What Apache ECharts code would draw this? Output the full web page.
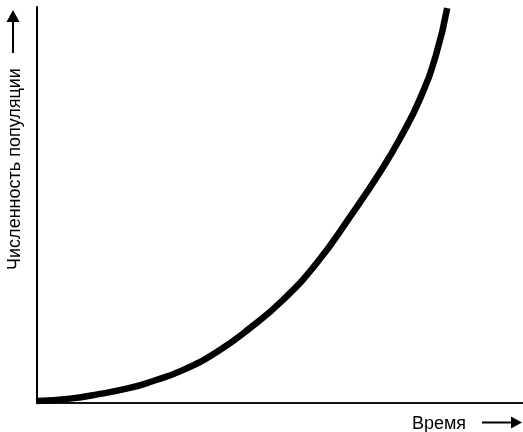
<!DOCTYPE html>
<html>
<head>
<meta charset="utf-8">
<script src="https://cdn.jsdelivr.net/npm/echarts@6/dist/echarts.min.js"></script>
<style>
  html, body { margin: 0; padding: 0; background: #fff; }
  #chart { width: 523px; height: 432px; }
</style>
</head>
<body>
<div id="chart"></div>
<script>
// Exponential (J-shaped) population growth over time, arbitrary units
const timeValues = [0, 6.8, 13.0, 19.1, 23.3, 30.0, 37.0, 43.8, 50.6, 57.6, 64.4, 71.0, 75.1, 78.8, 82.1, 84.4];
const populationValues = [0.5, 1.1, 2.3, 3.8, 5.3, 8.3, 12.9, 18.9, 26.0, 35.4, 47.0, 59.1, 67.7, 76.8, 87.9, 99.7];

const yAxisTitle = 'Численность популяции';
const xAxisTitle = 'Время';

const seriesData = timeValues.map((t, i) => [t, populationValues[i]]);

const FONT = '"Liberation Sans", Arial, sans-serif';

const chart = echarts.init(document.getElementById('chart'), null, { renderer: 'canvas' });

chart.setOption({
  animation: false,
  backgroundColor: '#ffffff',
  grid: { left: 37, right: 0, top: 7, bottom: 29 },
  xAxis: {
    type: 'value',
    min: 0,
    max: 100,
    axisLine: { show: true, lineStyle: { color: '#111', width: 2 } },
    axisTick: { show: false },
    axisLabel: { show: false },
    splitLine: { show: false }
  },
  yAxis: {
    type: 'value',
    min: 0,
    max: 100,
    axisLine: { show: true, onZero: false, lineStyle: { color: '#000', width: 2 } },
    axisTick: { show: false },
    axisLabel: { show: false },
    splitLine: { show: false }
  },
  series: [{
    type: 'line',
    data: seriesData,
    smooth: 0.5,
    symbol: 'none',
    clip: true,
    lineStyle: { color: '#000', width: 6.5, cap: 'butt' }
  }],
  graphic: [
    // vertical axis title, reading bottom to top
    {
      type: 'text',
      x: 15.5, y: 169,
      rotation: Math.PI / 2,
      style: {
        text: yAxisTitle,
        font: '18px ' + FONT,
        fill: '#000',
        align: 'center',
        verticalAlign: 'middle'
      }
    },
    // upward arrow after the vertical title
    { type: 'line', shape: { x1: 13, y1: 53, x2: 13, y2: 20 }, style: { stroke: '#000', lineWidth: 2 } },
    { type: 'polygon', shape: { points: [[13, 10], [6.5, 22], [19.5, 22]] }, style: { fill: '#000' } },
    // horizontal axis title
    {
      type: 'text',
      x: 439, y: 424.5,
      style: {
        text: xAxisTitle,
        font: '18px ' + FONT,
        fill: '#000',
        align: 'center',
        verticalAlign: 'middle'
      }
    },
    // rightward arrow after the horizontal title
    { type: 'line', shape: { x1: 482, y1: 422.5, x2: 512, y2: 422.5 }, style: { stroke: '#000', lineWidth: 2 } },
    { type: 'polygon', shape: { points: [[522, 422.5], [511, 416.5], [511, 428.5]] }, style: { fill: '#000' } }
  ]
});
</script>
</body>
</html>
